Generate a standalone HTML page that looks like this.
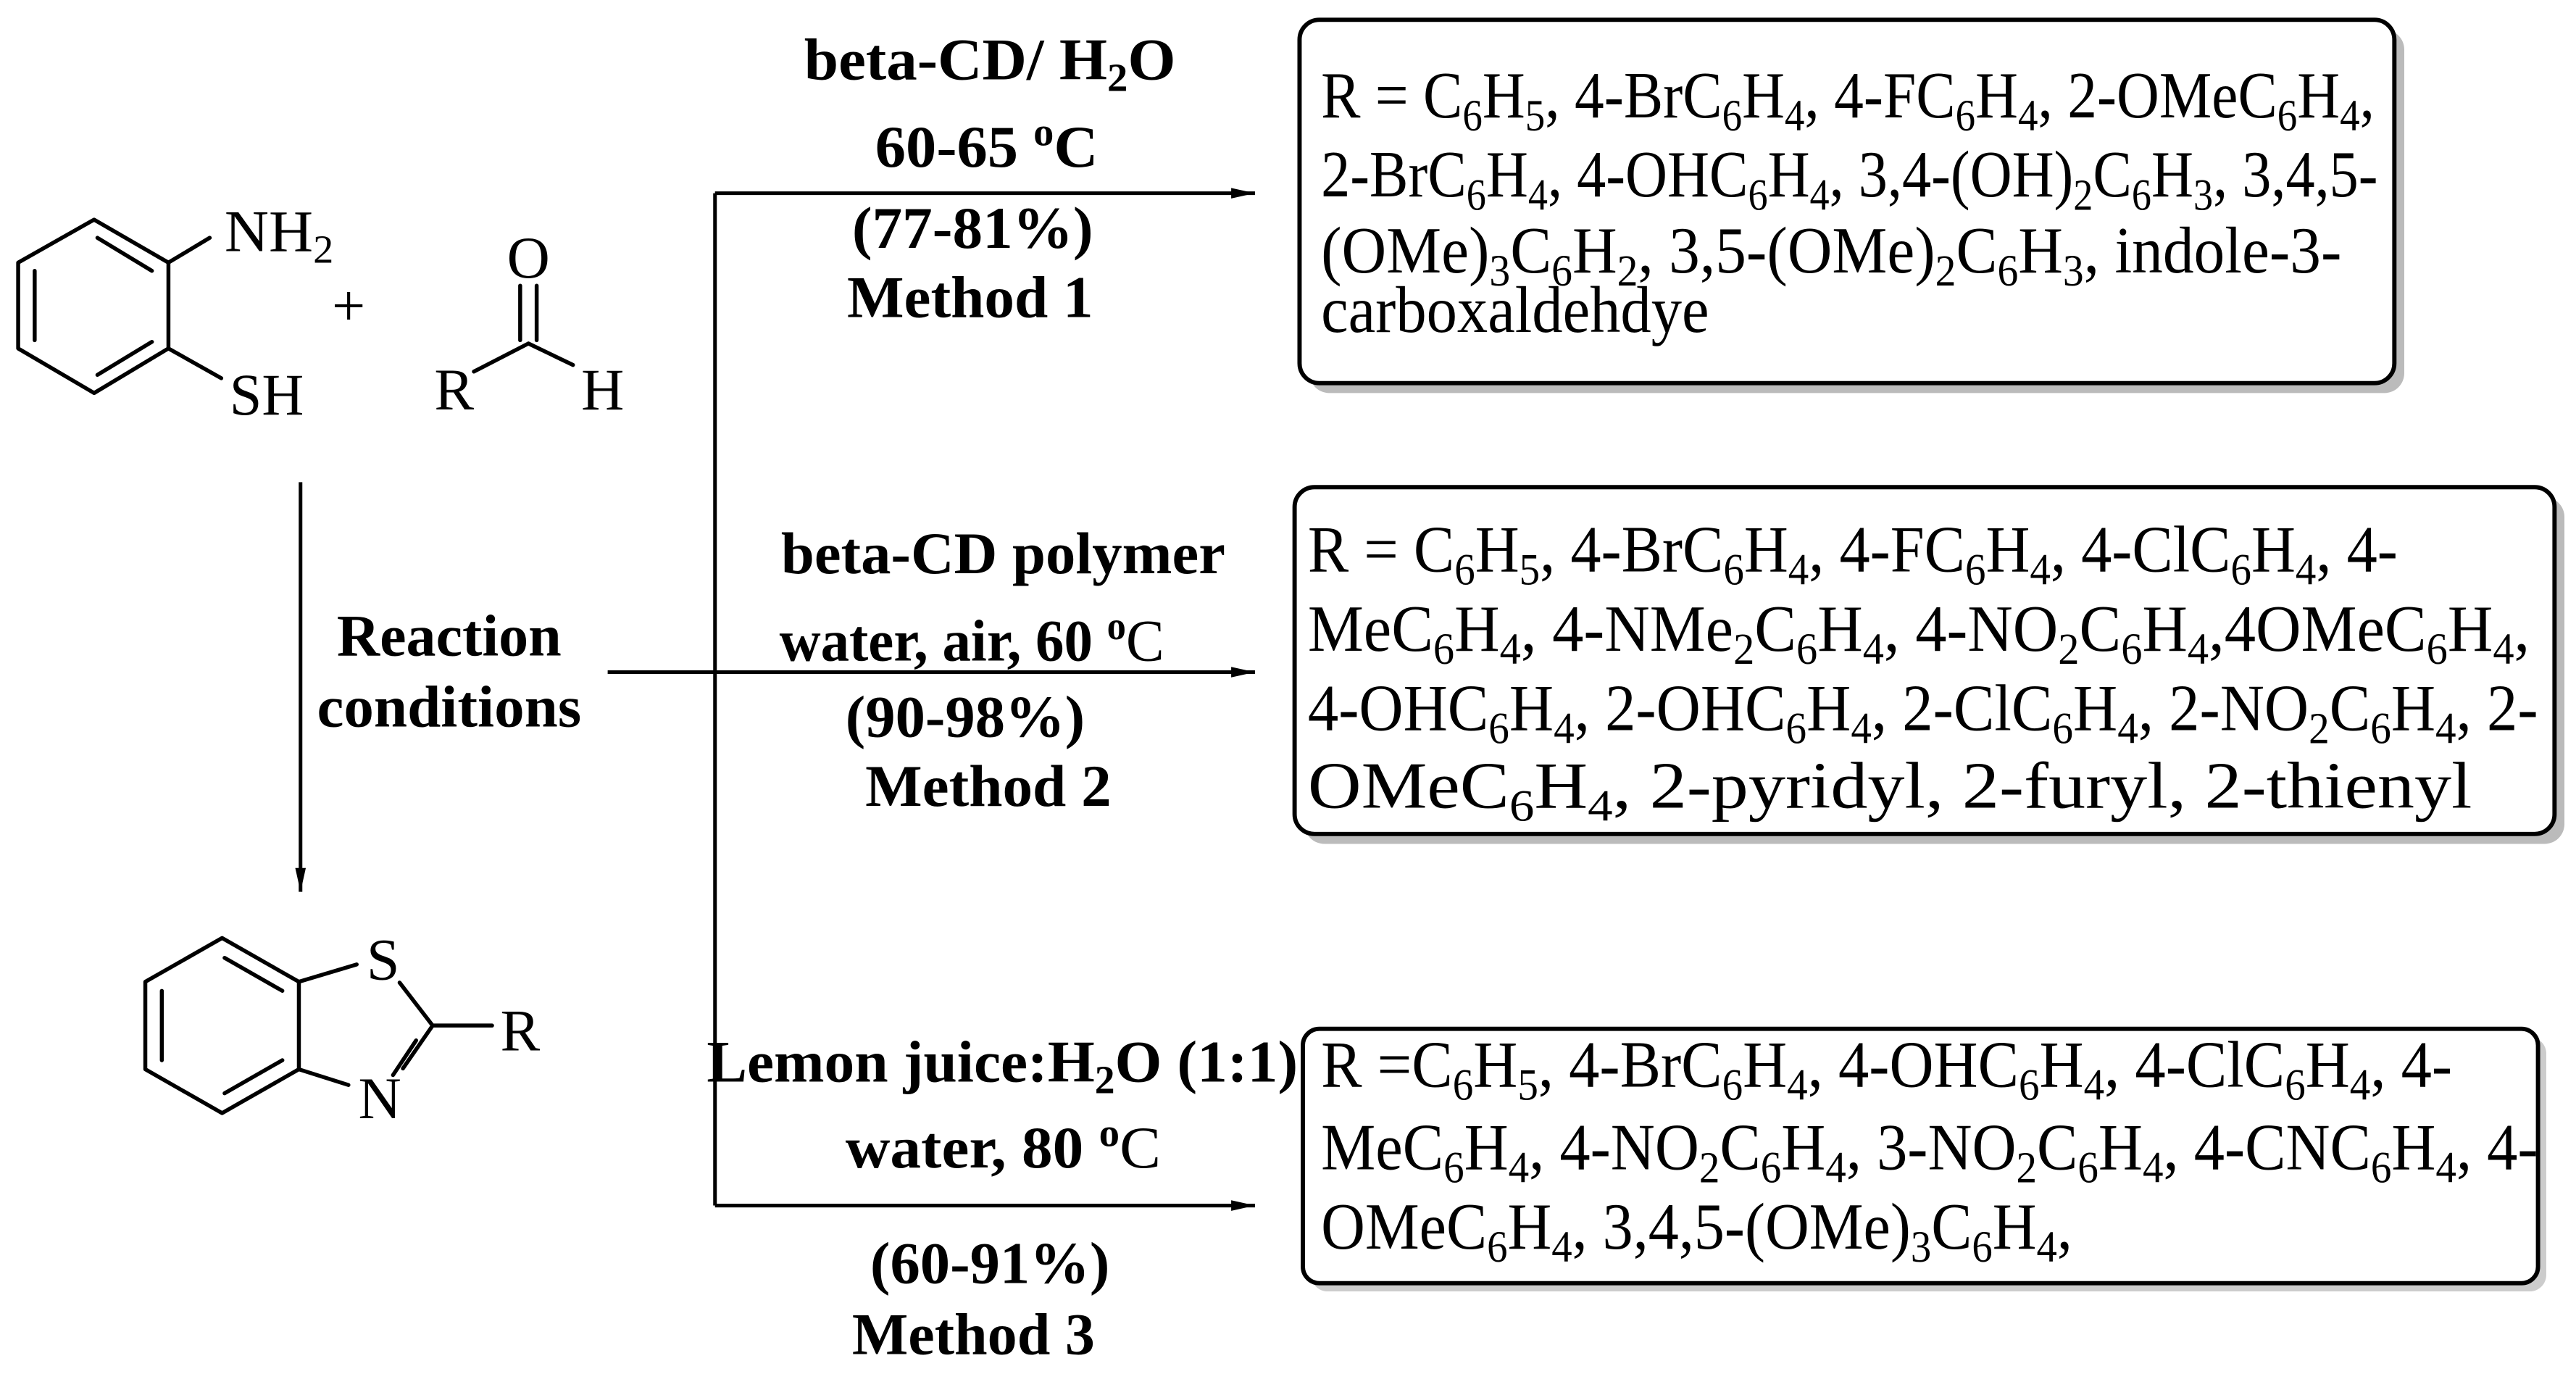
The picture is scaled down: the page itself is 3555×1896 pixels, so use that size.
<!DOCTYPE html>
<html><head><meta charset="utf-8"><style>
html,body{margin:0;padding:0;background:#fff}
svg{display:block}
text{font-family:"Liberation Serif",serif;fill:#000}
.b{font-weight:bold;font-size:36px}
.m{font-size:36px}
.t{font-size:40px}
</style></head><body>
<svg width="3555" height="1896" viewBox="0 0 1560 832" xmlns="http://www.w3.org/2000/svg">
<defs>
<marker id="ah2" viewBox="0 0 18 10" markerWidth="18" markerHeight="8" refX="18" refY="5" orient="auto" markerUnits="userSpaceOnUse"><path d="M0,1 L18,5 L0,9 Z" fill="#000"/></marker></defs>
<g stroke="#000" stroke-width="2.4" fill="none" stroke-linecap="round" stroke-linejoin="round">
<path d="M57,133 L102,159 L102,211 L57,238 L11,211 L11,159 Z"/>
<path d="M59,144 L92,164 M21,164 L21,206 M59,227 L92,207"/>
<path d="M102,159 L127,144 M102,211 L134,229"/>
<path d="M315,173 L315,206 M325,173 L325,206 M320,208 L287,225 M320,208 L347,221"/>
<path d="M134.5,568 L181,594.5 L181,647.5 L134.5,674 L88,647.5 L88,594.5 Z"/>
<path d="M136,580 L171,600 M98,600 L98,642 M136,662 L171,642"/>
<path d="M181,594.5 L216,584 M242,595 L262,621 L298,621 M262,621 L244,647 M181,647.5 L211,657 M252,630 L238,651"/>
</g>
<g stroke="#000" stroke-width="2.2" fill="none">
<line x1="182" y1="292" x2="182" y2="540" marker-end="url(#ah2)"/>
<line x1="368" y1="407" x2="760" y2="407" marker-end="url(#ah2)"/>
<line x1="433" y1="117" x2="433" y2="730"/>
<line x1="433" y1="117" x2="760" y2="117" marker-end="url(#ah2)"/>
<line x1="433" y1="730" x2="760" y2="730" marker-end="url(#ah2)"/>
</g>
<text class="m" x="136" y="152" textLength="66" lengthAdjust="spacingAndGlyphs">NH<tspan font-size="24" dy="7">2</tspan></text>
<text class="m" x="139" y="251" textLength="45" lengthAdjust="spacingAndGlyphs">SH</text>
<text class="m" x="201" y="197">+</text>
<text class="m" x="307" y="168">O</text>
<text class="m" x="263" y="248">R</text>
<text class="m" x="352" y="248">H</text>
<text class="m" x="222" y="593">S</text>
<text class="m" x="217" y="677">N</text>
<text class="m" x="303" y="636">R</text>
<text class="b" x="272" y="397" text-anchor="middle" textLength="136" lengthAdjust="spacingAndGlyphs">Reaction</text>
<text class="b" x="272" y="440" text-anchor="middle" textLength="160" lengthAdjust="spacingAndGlyphs">conditions</text>
<text class="b" x="487" y="48" textLength="225" lengthAdjust="spacingAndGlyphs">beta-CD/ H<tspan font-size="24" dy="7">2</tspan><tspan dy="-7">O</tspan></text>
<text class="b" x="530" y="101" textLength="135" lengthAdjust="spacingAndGlyphs">60-65 <tspan font-size="24" dy="-13">o</tspan><tspan dy="13">C</tspan></text>
<text class="b" x="516" y="150" textLength="146" lengthAdjust="spacingAndGlyphs">(77-81%)</text>
<text class="b" x="513" y="192" textLength="149" lengthAdjust="spacingAndGlyphs">Method 1</text>
<text class="b" x="473" y="347" textLength="269" lengthAdjust="spacingAndGlyphs">beta-CD polymer</text>
<text class="b" x="472" y="400" textLength="233" lengthAdjust="spacingAndGlyphs">water, air, 60 <tspan font-size="24" dy="-13">o</tspan><tspan dy="13" font-weight="normal">C</tspan></text>
<text class="b" x="512" y="446" textLength="145" lengthAdjust="spacingAndGlyphs">(90-98%)</text>
<text class="b" x="524" y="488" textLength="149" lengthAdjust="spacingAndGlyphs">Method 2</text>
<text class="b" x="428" y="655" textLength="358" lengthAdjust="spacingAndGlyphs">Lemon juice:H<tspan font-size="24" dy="7">2</tspan><tspan dy="-7">O (1:1)</tspan></text>
<text class="b" x="512" y="707" textLength="191" lengthAdjust="spacingAndGlyphs">water, 80 <tspan font-size="24" dy="-13">o</tspan><tspan dy="13" font-weight="normal">C</tspan></text>
<text class="b" x="527" y="777" textLength="145" lengthAdjust="spacingAndGlyphs">(60-91%)</text>
<text class="b" x="516" y="820" textLength="147" lengthAdjust="spacingAndGlyphs">Method 3</text>
<rect x="793" y="18" width="663" height="220" rx="12" fill="#bbb"/>
<rect x="787" y="12" width="663" height="220" rx="12" fill="#fff" stroke="#000" stroke-width="2.6"/>
<rect x="790" y="301" width="763" height="210" rx="12" fill="#bbb"/>
<rect x="784" y="295" width="763" height="210" rx="12" fill="#fff" stroke="#000" stroke-width="2.6"/>
<rect x="794" y="628" width="748" height="154" rx="10" fill="#ccc"/>
<rect x="789" y="623" width="748" height="154" rx="10" fill="#fff" stroke="#000" stroke-width="2.6"/>
<g class="t">
<text class="t" x="800" y="71" textLength="638" lengthAdjust="spacingAndGlyphs">R = C<tspan font-size="27" dy="8">6</tspan><tspan dy="-8">H</tspan><tspan font-size="27" dy="8">5</tspan><tspan dy="-8">, 4-BrC</tspan><tspan font-size="27" dy="8">6</tspan><tspan dy="-8">H</tspan><tspan font-size="27" dy="8">4</tspan><tspan dy="-8">, 4-FC</tspan><tspan font-size="27" dy="8">6</tspan><tspan dy="-8">H</tspan><tspan font-size="27" dy="8">4</tspan><tspan dy="-8">, 2-OMeC</tspan><tspan font-size="27" dy="8">6</tspan><tspan dy="-8">H</tspan><tspan font-size="27" dy="8">4</tspan><tspan dy="-8">,</tspan></text>
<text class="t" x="800" y="119" textLength="640" lengthAdjust="spacingAndGlyphs">2-BrC<tspan font-size="27" dy="8">6</tspan><tspan dy="-8">H</tspan><tspan font-size="27" dy="8">4</tspan><tspan dy="-8">, 4-OHC</tspan><tspan font-size="27" dy="8">6</tspan><tspan dy="-8">H</tspan><tspan font-size="27" dy="8">4</tspan><tspan dy="-8">, 3,4-(OH)</tspan><tspan font-size="27" dy="8">2</tspan><tspan dy="-8">C</tspan><tspan font-size="27" dy="8">6</tspan><tspan dy="-8">H</tspan><tspan font-size="27" dy="8">3</tspan><tspan dy="-8">, 3,4,5-</tspan></text>
<text class="t" x="800" y="165" textLength="618" lengthAdjust="spacingAndGlyphs">(OMe)<tspan font-size="27" dy="8">3</tspan><tspan dy="-8">C</tspan><tspan font-size="27" dy="8">6</tspan><tspan dy="-8">H</tspan><tspan font-size="27" dy="8">2</tspan><tspan dy="-8">, 3,5-(OMe)</tspan><tspan font-size="27" dy="8">2</tspan><tspan dy="-8">C</tspan><tspan font-size="27" dy="8">6</tspan><tspan dy="-8">H</tspan><tspan font-size="27" dy="8">3</tspan><tspan dy="-8">, indole-3-</tspan></text>
<text class="t" x="800" y="201" textLength="235" lengthAdjust="spacingAndGlyphs">carboxaldehdye</text>

<text class="t" x="792" y="346" textLength="660" lengthAdjust="spacingAndGlyphs">R = C<tspan font-size="27" dy="8">6</tspan><tspan dy="-8">H</tspan><tspan font-size="27" dy="8">5</tspan><tspan dy="-8">, 4-BrC</tspan><tspan font-size="27" dy="8">6</tspan><tspan dy="-8">H</tspan><tspan font-size="27" dy="8">4</tspan><tspan dy="-8">, 4-FC</tspan><tspan font-size="27" dy="8">6</tspan><tspan dy="-8">H</tspan><tspan font-size="27" dy="8">4</tspan><tspan dy="-8">, 4-ClC</tspan><tspan font-size="27" dy="8">6</tspan><tspan dy="-8">H</tspan><tspan font-size="27" dy="8">4</tspan><tspan dy="-8">, 4-</tspan></text>
<text class="t" x="792" y="394" textLength="740" lengthAdjust="spacingAndGlyphs">MeC<tspan font-size="27" dy="8">6</tspan><tspan dy="-8">H</tspan><tspan font-size="27" dy="8">4</tspan><tspan dy="-8">, 4-NMe</tspan><tspan font-size="27" dy="8">2</tspan><tspan dy="-8">C</tspan><tspan font-size="27" dy="8">6</tspan><tspan dy="-8">H</tspan><tspan font-size="27" dy="8">4</tspan><tspan dy="-8">, 4-NO</tspan><tspan font-size="27" dy="8">2</tspan><tspan dy="-8">C</tspan><tspan font-size="27" dy="8">6</tspan><tspan dy="-8">H</tspan><tspan font-size="27" dy="8">4</tspan><tspan dy="-8">,4OMeC</tspan><tspan font-size="27" dy="8">6</tspan><tspan dy="-8">H</tspan><tspan font-size="27" dy="8">4</tspan><tspan dy="-8">,</tspan></text>
<text class="t" x="792" y="442" textLength="745" lengthAdjust="spacingAndGlyphs">4-OHC<tspan font-size="27" dy="8">6</tspan><tspan dy="-8">H</tspan><tspan font-size="27" dy="8">4</tspan><tspan dy="-8">, 2-OHC</tspan><tspan font-size="27" dy="8">6</tspan><tspan dy="-8">H</tspan><tspan font-size="27" dy="8">4</tspan><tspan dy="-8">, 2-ClC</tspan><tspan font-size="27" dy="8">6</tspan><tspan dy="-8">H</tspan><tspan font-size="27" dy="8">4</tspan><tspan dy="-8">, 2-NO</tspan><tspan font-size="27" dy="8">2</tspan><tspan dy="-8">C</tspan><tspan font-size="27" dy="8">6</tspan><tspan dy="-8">H</tspan><tspan font-size="27" dy="8">4</tspan><tspan dy="-8">, 2-</tspan></text>
<text class="t" x="792" y="489" textLength="705" lengthAdjust="spacingAndGlyphs">OMeC<tspan font-size="27" dy="8">6</tspan><tspan dy="-8">H</tspan><tspan font-size="27" dy="8">4</tspan><tspan dy="-8">, 2-pyridyl, 2-furyl, 2-thienyl</tspan></text>

<text class="t" x="800" y="658" textLength="685" lengthAdjust="spacingAndGlyphs">R =C<tspan font-size="27" dy="8">6</tspan><tspan dy="-8">H</tspan><tspan font-size="27" dy="8">5</tspan><tspan dy="-8">, 4-BrC</tspan><tspan font-size="27" dy="8">6</tspan><tspan dy="-8">H</tspan><tspan font-size="27" dy="8">4</tspan><tspan dy="-8">, 4-OHC</tspan><tspan font-size="27" dy="8">6</tspan><tspan dy="-8">H</tspan><tspan font-size="27" dy="8">4</tspan><tspan dy="-8">, 4-ClC</tspan><tspan font-size="27" dy="8">6</tspan><tspan dy="-8">H</tspan><tspan font-size="27" dy="8">4</tspan><tspan dy="-8">, 4-</tspan></text>
<text class="t" x="800" y="708" textLength="737" lengthAdjust="spacingAndGlyphs">MeC<tspan font-size="27" dy="8">6</tspan><tspan dy="-8">H</tspan><tspan font-size="27" dy="8">4</tspan><tspan dy="-8">, 4-NO</tspan><tspan font-size="27" dy="8">2</tspan><tspan dy="-8">C</tspan><tspan font-size="27" dy="8">6</tspan><tspan dy="-8">H</tspan><tspan font-size="27" dy="8">4</tspan><tspan dy="-8">, 3-NO</tspan><tspan font-size="27" dy="8">2</tspan><tspan dy="-8">C</tspan><tspan font-size="27" dy="8">6</tspan><tspan dy="-8">H</tspan><tspan font-size="27" dy="8">4</tspan><tspan dy="-8">, 4-CNC</tspan><tspan font-size="27" dy="8">6</tspan><tspan dy="-8">H</tspan><tspan font-size="27" dy="8">4</tspan><tspan dy="-8">, 4-</tspan></text>
<text class="t" x="800" y="756" textLength="455" lengthAdjust="spacingAndGlyphs">OMeC<tspan font-size="27" dy="8">6</tspan><tspan dy="-8">H</tspan><tspan font-size="27" dy="8">4</tspan><tspan dy="-8">, 3,4,5-(OMe)</tspan><tspan font-size="27" dy="8">3</tspan><tspan dy="-8">C</tspan><tspan font-size="27" dy="8">6</tspan><tspan dy="-8">H</tspan><tspan font-size="27" dy="8">4</tspan><tspan dy="-8">,</tspan></text>
</g>
</svg>
</body></html>
